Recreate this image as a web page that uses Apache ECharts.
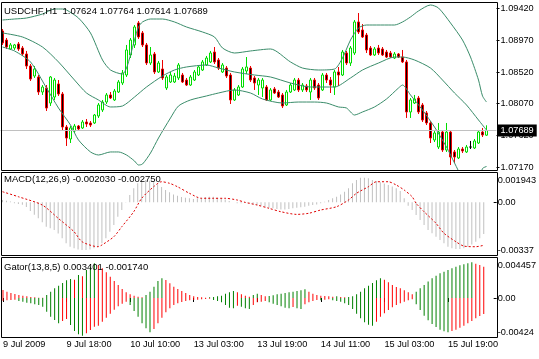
<!DOCTYPE html>
<html><head><meta charset="utf-8">
<script src="https://cdn.jsdelivr.net/npm/echarts@6/dist/echarts.min.js"></script>
<style>html,body{margin:0;padding:0;background:#fff}#c{width:539px;height:359px}</style>
</head><body><div id="c"></div>
<script>
// ---------- DATA ----------
const opens = [
1.09101,1.08973,1.08846,1.08860,1.08917,1.08860,1.08775,1.08605,1.08463,1.08449,
1.08236,1.08293,1.08080,1.08165,1.08350,1.08208,1.07740,1.07570,1.07683,1.07754,
1.07726,1.07811,1.07797,1.07797,1.07896,1.07981,1.08094,1.08194,1.08123,1.08236,
1.08364,1.08477,1.08761,1.08903,1.09215,1.09073,1.08903,1.08647,1.08775,1.08520,
1.08562,1.08293,1.08378,1.08378,1.08435,1.08477,1.08406,1.08335,1.08406,1.08477,
1.08548,1.08619,1.08662,1.08803,1.08690,1.08520,1.08576,1.08477,1.08123,1.08194,
1.08307,1.08534,1.08576,1.08435,1.08335,1.08293,1.08307,1.08123,1.08279,1.08236,
1.08194,1.08052,1.08236,1.08265,1.08406,1.08265,1.08321,1.08236,1.08406,1.08335,
1.08265,1.08477,1.08406,1.08307,1.08520,1.08477,1.08789,1.08647,1.08789,1.09229,
1.09115,1.09044,1.08860,1.08761,1.08860,1.08846,1.08803,1.08789,1.08718,1.08775,
1.08732,1.08662,1.07953,1.08080,1.08151,1.08052,1.07939,1.07797,1.07556,1.07456,
1.07669,1.07414,1.07669,1.07386,1.07301,1.07428,1.07386,1.07456,1.07442,1.07513,
1.07669,1.07624];
const closes = [
1.08931,1.08874,1.08903,1.08903,1.08846,1.08775,1.08605,1.08420,1.08562,1.08236,
1.08307,1.08009,1.08449,1.08406,1.08208,1.07740,1.07584,1.07726,1.07754,1.07712,
1.07811,1.07783,1.07768,1.07910,1.08052,1.08094,1.08194,1.08151,1.08250,1.08378,
1.08506,1.08832,1.08973,1.09158,1.09016,1.08903,1.08647,1.08761,1.08520,1.08647,
1.08435,1.08449,1.08477,1.08463,1.08619,1.08378,1.08335,1.08449,1.08520,1.08591,
1.08662,1.08718,1.08789,1.08662,1.08576,1.08619,1.08463,1.08123,1.08265,1.08307,
1.08562,1.08591,1.08406,1.08364,1.08406,1.08406,1.08123,1.08265,1.08222,1.08165,
1.08038,1.08236,1.08335,1.08406,1.08265,1.08335,1.08265,1.08406,1.08293,1.08151,
1.08477,1.08406,1.08335,1.08520,1.08477,1.08803,1.08647,1.08860,1.09229,1.09087,
1.09016,1.08832,1.08761,1.08846,1.08789,1.08761,1.08732,1.08732,1.08775,1.08732,
1.08662,1.07953,1.08123,1.08137,1.07953,1.07839,1.07797,1.07584,1.07655,1.07669,
1.07414,1.07669,1.07315,1.07315,1.07428,1.07400,1.07456,1.07456,1.07542,1.07669,
1.07627,1.07689];
const highs = [
1.09129,1.09002,1.08931,1.08917,1.08945,1.08888,1.08818,1.08633,1.08605,1.08477,
1.08335,1.08335,1.08463,1.08435,1.08406,1.08236,1.07768,1.07754,1.07783,1.07768,
1.07839,1.07853,1.07825,1.07924,1.08080,1.08123,1.08222,1.08236,1.08279,1.08406,
1.08548,1.08903,1.09002,1.09186,1.09243,1.09101,1.08931,1.08874,1.08803,1.08676,
1.08690,1.08477,1.08520,1.08506,1.08647,1.08506,1.08435,1.08477,1.08548,1.08619,
1.08690,1.08747,1.08818,1.08874,1.08718,1.08647,1.08605,1.08506,1.08293,1.08335,
1.08591,1.08732,1.08605,1.08463,1.08435,1.08435,1.08335,1.08293,1.08307,1.08265,
1.08222,1.08265,1.08364,1.08435,1.08435,1.08364,1.08350,1.08435,1.08435,1.08364,
1.08506,1.08506,1.08449,1.08548,1.08591,1.08832,1.08818,1.08888,1.09257,1.09356,
1.09200,1.09073,1.08888,1.08874,1.08903,1.08874,1.08832,1.08818,1.08803,1.08789,
1.08832,1.08690,1.08151,1.08194,1.08180,1.08080,1.07967,1.07825,1.07683,1.07797,
1.07697,1.07797,1.07697,1.07414,1.07456,1.07456,1.07485,1.07542,1.07570,1.07697,
1.07726,1.07764];
const lows = [
1.08903,1.08846,1.08832,1.08832,1.08818,1.08747,1.08562,1.08392,1.08435,1.08194,
1.08194,1.07967,1.08038,1.08123,1.08180,1.07697,1.07471,1.07513,1.07655,1.07697,
1.07712,1.07740,1.07740,1.07783,1.07868,1.07953,1.08066,1.08137,1.08109,1.08222,
1.08335,1.08449,1.08718,1.08860,1.08988,1.08874,1.08619,1.08619,1.08491,1.08506,
1.08406,1.08265,1.08364,1.08364,1.08406,1.08364,1.08321,1.08321,1.08392,1.08463,
1.08534,1.08605,1.08647,1.08633,1.08548,1.08506,1.08435,1.08066,1.08109,1.08180,
1.08293,1.08491,1.08378,1.08265,1.08194,1.08165,1.08109,1.08109,1.08208,1.08151,
1.08009,1.08038,1.08222,1.08250,1.08236,1.08236,1.08236,1.08123,1.08265,1.08123,
1.08250,1.08364,1.08222,1.08194,1.08321,1.08463,1.08619,1.08605,1.08761,1.09059,
1.09002,1.08789,1.08747,1.08747,1.08761,1.08747,1.08718,1.08718,1.08704,1.08718,
1.08647,1.07868,1.07868,1.08066,1.07924,1.07811,1.07768,1.07513,1.07527,1.07428,
1.07386,1.07386,1.07201,1.07230,1.07286,1.07371,1.07371,1.07428,1.07428,1.07499,
1.07598,1.07614];

// Bollinger bands, read at sample bars: [bar index, price]
const bbUpper = [[0,1.09257],[3,1.09271],[6,1.09285],[10,1.09342],[13,1.09413],[15,1.09413],[16,1.09399],[19,1.09285],[22,1.09073],[25,1.08690],[27,1.08548],[30,1.08491],[31,1.08576],[32,1.08761],[33,1.08973],[34,1.09158],[35,1.09229],[37,1.09271],[40,1.09271],[43,1.09229],[46,1.09158],[50,1.09087],[53,1.09016],[55,1.08860],[58,1.08789],[62,1.08818],[67,1.08846],[72,1.08662],[75,1.08576],[79,1.08548],[83,1.08562],[85,1.08718],[87,1.08973],[89,1.09144],[91,1.09186],[98,1.09186],[100,1.09229],[102,1.09300],[104,1.09385],[107,1.09470],[109,1.09427],[112,1.09215],[115,1.08973],[117,1.08732],[119,1.08406],[120,1.08180],[121,1.08094]];
const bbMiddle = [[0,1.09073],[5,1.09016],[10,1.08874],[14,1.08662],[18,1.08406],[21,1.08222],[24,1.08123],[27,1.08024],[30,1.08038],[33,1.08165],[36,1.08307],[40,1.08463],[43,1.08548],[46,1.08591],[51,1.08619],[54,1.08576],[58,1.08520],[63,1.08477],[67,1.08449],[72,1.08364],[77,1.08307],[83,1.08307],[87,1.08435],[90,1.08548],[94,1.08647],[98,1.08732],[100,1.08732],[103,1.08690],[107,1.08576],[110,1.08406],[113,1.08222],[116,1.08052],[119,1.07839],[121,1.07697]];
const bbLower = [[0,1.08874],[3,1.08818],[7,1.08662],[11,1.08293],[14,1.08009],[17,1.07768],[19,1.07556],[22,1.07386],[24,1.07343],[27,1.07386],[29,1.07386],[31,1.07343],[33,1.07258],[34,1.07201],[35,1.07215],[37,1.07371],[39,1.07584],[42,1.07868],[44,1.08038],[47,1.08123],[51,1.08180],[54,1.08222],[58,1.08265],[62,1.08222],[65,1.08137],[70,1.08080],[74,1.08094],[78,1.08094],[81,1.08080],[84,1.08024],[86,1.08009],[88,1.07910],[90,1.07953],[93,1.08024],[96,1.08137],[99,1.08293],[100,1.08335],[102,1.08194],[105,1.07981],[108,1.07740],[111,1.07456],[113,1.07230],[115,1.07017],[117,1.06918],[119,1.06988],[120,1.07151],[121,1.07180]];

const macdMain = [
0.00015,0.0001,0.00005,-0.00005,-0.0001,-0.00015,-0.0003,-0.00055,-0.0008,-0.00102,
-0.00128,-0.00156,-0.00166,-0.00177,-0.00199,-0.0023,-0.00262,-0.00284,-0.00294,-0.00301,
-0.00305,-0.00305,-0.00301,-0.00294,-0.00284,-0.00262,-0.0023,-0.00188,-0.00145,-0.00092,
-0.00049,0.00002,0.00047,0.0009,0.00122,0.00137,0.00143,0.00139,0.00128,0.00115,
0.00098,0.00079,0.00064,0.00051,0.00043,0.00034,0.0003,0.00026,0.00021,0.00026,
0.0003,0.00034,0.00036,0.00036,0.0003,0.00026,0.00019,0.00009,0.00001,-0.00006,
-0.00006,-0.00002,-0.00006,-0.00013,-0.00017,-0.00021,-0.00028,-0.00034,-0.00038,-0.00043,
-0.00045,-0.00045,-0.00043,-0.00038,-0.00034,-0.00032,-0.00028,-0.00021,-0.00017,-0.00013,
-0.00006,0.00004,0.00015,0.00026,0.00036,0.00051,0.00068,0.0009,0.00122,0.00143,
0.00158,0.00158,0.00154,0.00143,0.00137,0.00128,0.0012,0.00111,0.00102,0.0009,
0.00073,0.00026,-0.00021,-0.00049,-0.00081,-0.00113,-0.00145,-0.00177,-0.00198,-0.0022,
-0.00241,-0.00262,-0.00284,-0.00294,-0.00299,-0.00299,-0.00294,-0.00284,-0.00269,-0.00252,
-0.0023,-0.00203];
const macdSignal = [[0,0.00068],[4,0.00036],[10,-0.00017],[14,-0.00102],[18,-0.00188],[20,-0.00252],[24,-0.00284],[25,-0.00273],[28,-0.0022],[30,-0.00156],[33,-0.0006],[35,0.00026],[38,0.001],[40,0.00132],[42,0.00122],[44,0.001],[47,0.00058],[50,0.00026],[53,0.00026],[56,0.00026],[59,0.00015],[61,0],[64,-0.00017],[67,-0.00038],[70,-0.0006],[74,-0.00077],[77,-0.0007],[80,-0.00049],[84,-0.00028],[87,0.00015],[89,0.00058],[92,0.001],[94,0.00132],[97,0.00132],[99,0.00111],[101,0.00079],[103,0.00036],[104,-0.00006],[106,-0.0006],[109,-0.00134],[111,-0.00198],[114,-0.00252],[116,-0.0028],[119,-0.00284],[121,-0.00275]];

const gatorUp = [
0.00087,0.00069,0.00054,0.00043,0.00033,0.00025,0.00018,0.00011,0.00007,0.00004,
0.00003,0.00033,0.00069,0.00105,0.00134,0.00163,0.00192,0.00207,0.00199,0.0025,
0.00236,0.00304,0.00341,0.00377,0.00359,0.00323,0.00279,0.00232,0.00185,0.00141,
0.00098,0.00062,0.0004,0.00025,0.00014,0.00007,0.00033,0.00069,0.00123,0.00185,
0.00214,0.00196,0.00159,0.00123,0.00098,0.00076,0.00054,0.00033,0.00018,0.00011,
0.00007,0.00004,0.00007,0.00011,0.00018,0.00025,0.00047,0.00062,0.00076,0.00062,
0.0004,0.00025,0.00014,0.00033,0.00047,0.00033,0.00018,0.00022,0.00029,0.0004,
0.00047,0.00054,0.00062,0.00069,0.00076,0.00083,0.00094,0.00069,0.00047,0.00033,
0.00025,0.00022,0.00018,0.00014,0.00018,0.00011,0.00007,0.00011,0.00018,0.0004,
0.00069,0.00105,0.00134,0.00163,0.00192,0.00214,0.00199,0.0017,0.00141,0.0012,
0.00105,0.00083,0.00062,0.0004,0.00069,0.00105,0.00141,0.00178,0.00214,0.00243,
0.00268,0.00286,0.00304,0.00323,0.00341,0.00355,0.00366,0.00377,0.00388,0.00373,
0.00359,0.003401];
const gatorDown = [
-0.00029,-0.00025,-0.00022,-0.00018,-0.00033,-0.0004,-0.00051,-0.00058,-0.00069,-0.00076,
-0.00094,-0.00149,-0.00203,-0.00239,-0.00275,-0.0025,-0.00228,-0.00294,-0.00359,-0.00395,
-0.0041,-0.00384,-0.00348,-0.00312,-0.00301,-0.00257,-0.00214,-0.0017,-0.00127,-0.00091,
-0.00062,-0.0004,-0.00076,-0.00141,-0.00203,-0.00275,-0.0033,-0.00373,-0.00337,-0.00275,
-0.00214,-0.00156,-0.00112,-0.00076,-0.00058,-0.00043,-0.00033,-0.00025,-0.00022,-0.00018,
-0.00014,-0.00011,-0.00007,-0.00022,-0.00033,-0.00047,-0.00076,-0.00105,-0.00112,-0.00083,
-0.00094,-0.00112,-0.0012,-0.00076,-0.00047,-0.0004,-0.00033,-0.00047,-0.00062,-0.00076,
-0.00091,-0.00105,-0.00112,-0.00098,-0.00112,-0.0012,-0.00069,-0.00047,-0.00033,-0.00022,
-0.00025,-0.00018,-0.00014,-0.00025,-0.00033,-0.0004,-0.00058,-0.00076,-0.0012,-0.0017,
-0.00221,-0.00265,-0.0029,-0.00301,-0.00257,-0.00203,-0.00167,-0.0013,-0.00101,-0.00076,
-0.00058,-0.0004,-0.00025,-0.00014,-0.00069,-0.0013,-0.00192,-0.00243,-0.00283,-0.00315,
-0.00344,-0.00362,-0.00373,-0.00359,-0.00344,-0.00323,-0.00301,-0.00275,-0.0025,-0.00221,
-0.00196,-0.00174];

// tick labels
const timeTicks = [[0,'9 Jul 2009'],[16,'9 Jul 18:00'],[32,'10 Jul 10:00'],[48,'13 Jul 03:00'],[64,'13 Jul 19:00'],[80,'14 Jul 11:00'],[96,'15 Jul 03:00'],[112,'15 Jul 19:00']];
const priceTicks = [1.07170,1.07620,1.08070,1.08520,1.08970,1.09420];
const priceRange = [1.071303, 1.095122];
const macdTicks = [-0.00337, 0, 0.001943];
const macdTickText = ['-0.00337', '0.00', '0.001943'];
const gatorTicks = [-0.00424, 0, 0.004457];
const gatorTickText = ['-0.00424', '0.00', '0.004457'];

// ---------- CHART ----------
const FONT = 'Liberation Sans, Arial, sans-serif';
const N = 124; // bar slots incl. right shift
const cats = Array.from({length: N}, (_, i) => String(i));
const last = closes.length - 1;
const candleData = opens.map((o, i) => [o, closes[i], lows[i], highs[i]]);
const tickMap = {}; timeTicks.forEach(([i, t]) => { tickMap[i] = t; });
const isTick = (idx) => tickMap[idx] !== undefined;
const GREEN = '#008000', RED = '#ff0000';
const gUp = gatorUp.map((v, i) => ({value: v, itemStyle: {color: (i > 0 && v > gatorUp[i - 1]) ? GREEN : RED}}));
const gDn = gatorDown.map((v, i) => ({value: v, itemStyle: {color: (i > 0 && Math.abs(v) > Math.abs(gatorDown[i - 1])) ? GREEN : RED}}));
const lastSignal = macdSignal[macdSignal.length - 1][1];

function pick(vals, texts) {
  return function (v) {
    for (let k = 0; k < vals.length; k++) {
      if (Math.abs(v - vals[k]) < 1e-9) return k === 0 ? '{b|' + texts[k] + '}' : texts[k];
    }
    return '';
  };
}
const txt = {fontFamily: FONT, color: '#000'};
const gridL = 0.5, gridW = 496;
const richMin = {b: {fontSize: 9.2, fontFamily: FONT, color: '#000', lineHeight: 9}};

const option = {
  animation: false,
  backgroundColor: '#ffffff',
  title: [
    {text: 'USDCHF,H1  ' + [opens[last], highs[last], lows[last], closes[last]].map(v => v.toFixed(5)).join(' '),
     left: 4, top: 6, padding: 0, textStyle: Object.assign({fontSize: 9.5, fontWeight: 'normal'}, txt)},
    {text: 'MACD(12,26,9) ' + macdMain[last].toFixed(6) + ' ' + lastSignal.toFixed(6),
     left: 4, top: 174, padding: 0, textStyle: Object.assign({fontSize: 9.5, fontWeight: 'normal'}, txt)},
    {text: 'Gator(13,8,5) ' + gatorUp[last].toFixed(6) + ' ' + gatorDown[last].toFixed(6),
     left: 4, top: 262, padding: 0, textStyle: Object.assign({fontSize: 9.5, fontWeight: 'normal'}, txt)}
  ],
  grid: [
    {left: gridL, width: gridW, top: 2, height: 168},
    {left: gridL, width: gridW, top: 172, height: 83},
    {left: gridL, width: gridW, top: 257, height: 80}
  ],
  xAxis: [0, 1, 2].map(g => ({
    type: 'category', gridIndex: g, data: cats, boundaryGap: true, show: g === 2,
    axisLine: {show: false},
    axisTick: {show: g === 2, alignWithLabel: true, interval: (idx) => isTick(idx), length: 4, lineStyle: {color: '#000'}},
    axisLabel: {show: g === 2, interval: (idx) => isTick(idx), formatter: (v) => tickMap[Number(v)] || '',
      align: 'left', margin: 3, fontSize: 9.2, fontFamily: FONT, color: '#000'},
    splitLine: {show: false}
  })),
  yAxis: [
    {type: 'value', gridIndex: 0, position: 'right', min: priceRange[0], max: priceRange[1],
     axisLine: {show: false}, splitLine: {show: false},
     axisTick: {show: true, customValues: priceTicks, length: 3, lineStyle: {color: '#000'}},
     axisLabel: {customValues: priceTicks, formatter: (v) => v.toFixed(5), margin: 4, fontSize: 9.2, fontFamily: FONT, color: '#000'}},
    {type: 'value', gridIndex: 1, position: 'right', min: macdTicks[0], max: macdTicks[2],
     axisLine: {show: false}, splitLine: {show: false},
     axisTick: {show: true, customValues: [0], length: 3, lineStyle: {color: '#000'}},
     axisLabel: {customValues: macdTicks, formatter: pick(macdTicks, macdTickText), margin: 4, fontSize: 9.2, fontFamily: FONT, color: '#000',
       lineHeight: 16, verticalAlignMinLabel: 'bottom', verticalAlignMaxLabel: 'top', rich: richMin}},
    {type: 'value', gridIndex: 2, position: 'right', min: gatorTicks[0], max: gatorTicks[2],
     axisLine: {show: false}, splitLine: {show: false},
     axisTick: {show: true, customValues: [0], length: 3, lineStyle: {color: '#000'}},
     axisLabel: {customValues: gatorTicks, formatter: pick(gatorTicks, gatorTickText), margin: 4, fontSize: 9.2, fontFamily: FONT, color: '#000',
       lineHeight: 16, verticalAlignMinLabel: 'bottom', verticalAlignMaxLabel: 'top', rich: richMin}}
  ],
  series: [
    {type: 'candlestick', xAxisIndex: 0, yAxisIndex: 0, data: candleData, barWidth: 3, z: 2,
     itemStyle: {color: '#ffffff', color0: '#000000', borderColor: '#00dd00', borderColor0: '#ee0000', borderColorDoji: '#000000', borderWidth: 1}},
    ...[bbUpper, bbMiddle, bbLower].map(d => ({
      type: 'line', xAxisIndex: 0, yAxisIndex: 0, data: d, symbol: 'none', smooth: 0.25, z: 3,
      lineStyle: {color: '#3a8c6a', width: 1}, emphasis: {disabled: true}
    })),
    // current price line (bid)
    {type: 'line', xAxisIndex: 0, yAxisIndex: 0, data: [], symbol: 'none', z: 1,
     markLine: {silent: true, symbol: ['none', 'none'], animation: false, precision: 5,
       lineStyle: {color: '#c0c0c0', width: 1, type: 'solid'},
       label: {show: true, position: 'end', distance: 1, formatter: () => closes[last].toFixed(5),
         color: '#ffffff', backgroundColor: '#000000', padding: [1, 3, 0, 3], fontSize: 9.2, fontFamily: FONT, lineHeight: 11},
       emphasis: {disabled: true},
       data: [{yAxis: closes[last]}]}},
    {type: 'bar', xAxisIndex: 1, yAxisIndex: 1, data: macdMain, barWidth: 1, itemStyle: {color: '#c0c0c0'}, emphasis: {disabled: true}},
    {type: 'line', xAxisIndex: 1, yAxisIndex: 1, data: macdSignal, symbol: 'none', smooth: 0.25, z: 3,
     lineStyle: {color: '#e00000', width: 1, type: [2, 2]}, emphasis: {disabled: true}},
    {type: 'bar', xAxisIndex: 2, yAxisIndex: 2, data: gUp, barWidth: 1, barGap: '-100%', emphasis: {disabled: true}},
    {type: 'bar', xAxisIndex: 2, yAxisIndex: 2, data: gDn, barWidth: 1, barGap: '-100%', emphasis: {disabled: true}}
  ],
  graphic: [
    {type: 'rect', silent: true, z: 100, shape: {x: 1.5, y: 2.5, width: 496, height: 168}, style: {fill: 'none', stroke: '#000', lineWidth: 1}},
    {type: 'rect', silent: true, z: 100, shape: {x: 1.5, y: 172.5, width: 496, height: 83}, style: {fill: 'none', stroke: '#000', lineWidth: 1}},
    {type: 'rect', silent: true, z: 100, shape: {x: 1.5, y: 257.5, width: 496, height: 80}, style: {fill: 'none', stroke: '#000', lineWidth: 1}}
  ]
};
const chart = echarts.init(document.getElementById('c'));
chart.setOption(option);
</script>
</body></html>
